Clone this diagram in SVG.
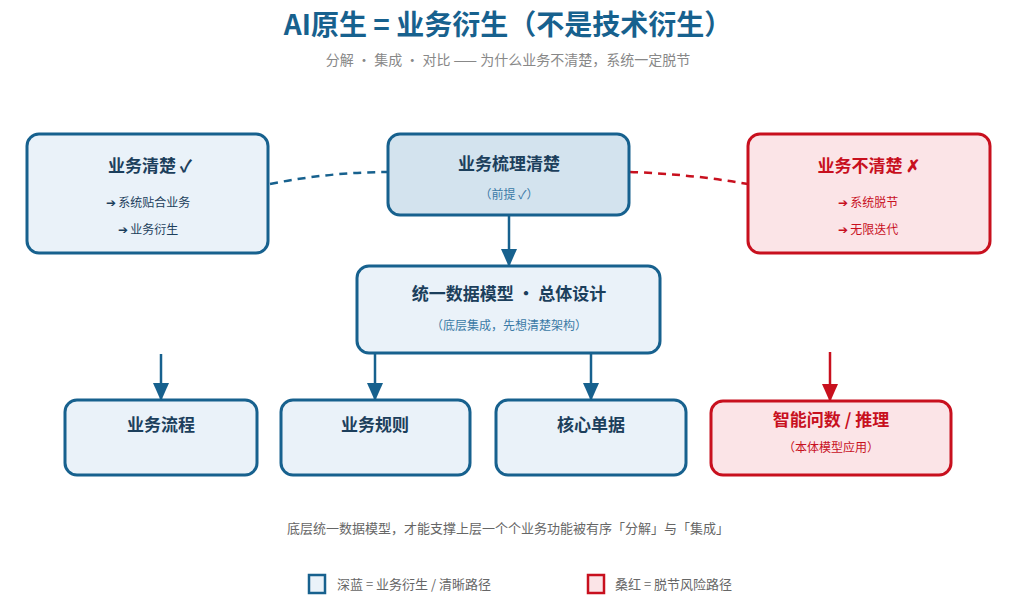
<svg xmlns="http://www.w3.org/2000/svg" width="1017" height="605" viewBox="0 0 1017 605">
<defs>
<marker id="ab" markerWidth="18" markerHeight="16" refX="16" refY="8" orient="auto" markerUnits="userSpaceOnUse" viewBox="0 0 18 16"><path d="M0,0 L18,8 L0,16 Z" fill="#17618e"/></marker>
<marker id="ar" markerWidth="18" markerHeight="16" refX="16" refY="8" orient="auto" markerUnits="userSpaceOnUse" viewBox="0 0 18 16"><path d="M0,0 L18,8 L0,16 Z" fill="#c8101e"/></marker>
</defs>
<style>
text{font-family:"Noto Sans CJK SC","Liberation Sans",sans-serif;text-anchor:middle}
.b{fill:#eaf2f9;stroke:#17618e;stroke-width:3}
.bd{fill:#d3e3ee;stroke:#17618e;stroke-width:3}
.r{fill:#fbe4e7;stroke:#c8101e;stroke-width:3}
.t{font-size:17px;font-weight:bold;fill:#1c3f5c}
.tr{font-size:17px;font-weight:bold;fill:#c8101e}
.s{font-size:12px;fill:#1c3f5c}
.sb{font-size:12px;fill:#3a7aa6}
.sr{font-size:12px;fill:#c8101e}
.c{stroke-width:2.5;fill:none}
</style>
<rect width="1017" height="605" fill="#fff"/>
<text x="508" y="35" font-size="28" font-weight="bold" fill="#17618e">AI原生 = 业务衍生（不是技术衍生）</text>
<text x="508" y="65" font-size="14" fill="#888">分解 • 集成 • 对比 —— 为什么业务不清楚，系统一定脱节</text>
<g id="connectors">
<path class="c" d="M270,184 Q330,172 388,172" stroke="#17618e" stroke-dasharray="8,6"/>
<path class="c" d="M630,172 Q690,174 748,184" stroke="#c8101e" stroke-dasharray="8,6"/>
<line class="c" x1="509" y1="215" x2="509" y2="265" stroke="#17618e" marker-end="url(#ab)"/>
<line class="c" x1="161" y1="354" x2="161" y2="399" stroke="#17618e" marker-end="url(#ab)"/>
<line class="c" x1="375" y1="354" x2="375" y2="399" stroke="#17618e" marker-end="url(#ab)"/>
<line class="c" x1="591" y1="354" x2="591" y2="399" stroke="#17618e" marker-end="url(#ab)"/>
<line class="c" x1="830" y1="352" x2="830" y2="400" stroke="#c8101e" marker-end="url(#ar)"/>
</g>
<g id="n-clear"><rect class="b" x="27" y="134" width="241" height="119" rx="12"/>
<text class="t" x="150" y="172">业务清楚 ✓</text><text class="s" x="148" y="207">➔ 系统贴合业务</text><text class="s" x="148" y="234">➔ 业务衍生</text></g>
<g id="n-sort"><rect class="bd" x="388" y="134" width="241" height="81" rx="12"/>
<text class="t" x="509" y="170">业务梳理清楚</text><text class="sb" x="509" y="199">（前提 ✓）</text></g>
<g id="n-unclear"><rect class="r" x="748" y="134" width="242" height="119" rx="12"/>
<text class="tr" x="869" y="172">业务不清楚 ✗</text><text class="sr" x="868" y="207">➔ 系统脱节</text><text class="sr" x="868" y="234">➔ 无限迭代</text></g>
<g id="n-model"><rect class="b" x="357" y="266" width="303" height="87" rx="12"/>
<text class="t" x="509" y="300">统一数据模型 • 总体设计</text><text class="sb" x="509" y="330">（底层集成，先想清楚架构）</text></g>
<g id="n-flow"><rect class="b" x="65" y="400" width="192" height="75" rx="12"/><text class="t" x="161" y="431">业务流程</text></g>
<g id="n-rule"><rect class="b" x="281" y="400" width="189" height="75" rx="12"/><text class="t" x="375" y="431">业务规则</text></g>
<g id="n-doc"><rect class="b" x="496" y="400" width="190" height="75" rx="12"/><text class="t" x="591" y="431">核心单据</text></g>
<g id="n-ai"><rect class="r" x="711" y="401" width="240" height="74" rx="12"/>
<text class="tr" x="831" y="426">智能问数 / 推理</text><text class="sr" x="831" y="452">（本体模型应用）</text></g>
<text x="508" y="533" font-size="13" fill="#666">底层统一数据模型，才能支撑上层一个个业务功能被有序「分解」与「集成」</text>
<g id="legend">
<rect x="309" y="575" width="16" height="18" fill="#eaf2f9" stroke="#17618e" stroke-width="2.5"/>
<text x="337" y="589" font-size="13" fill="#666" style="text-anchor:start">深蓝 = 业务衍生 / 清晰路径</text>
<rect x="588" y="575" width="16" height="18" fill="#fbe4e7" stroke="#c8101e" stroke-width="2.5"/>
<text x="615" y="589" font-size="13" fill="#666" style="text-anchor:start">桑红 = 脱节风险路径</text>
</g>
</svg>
